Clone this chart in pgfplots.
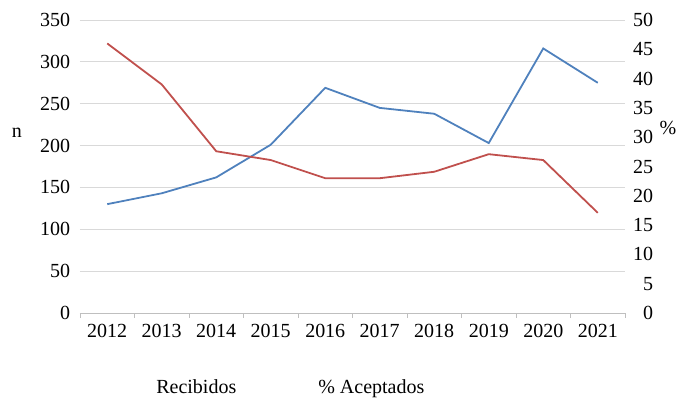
\documentclass[border=0pt]{standalone}
\usepackage{fontspec}
\setmainfont{Liberation Serif}
\usepackage{pgfplots}
\pgfplotsset{compat=1.18}
\definecolor{serblue}{HTML}{4F81BD}
\definecolor{serred}{HTML}{C0504D}
\definecolor{gridc}{HTML}{D9D9D9}
\definecolor{axc}{HTML}{BFBFBF}
\pgfplotstableread{
x n
0 130
1 143
2 162
3 201
4 269
5 245
6 238
7 203
8 316
9 275
}\recibidos
\pgfplotstableread{
x p
0 46.0
1 39.0
2 27.6
3 26.1
4 23.0
5 23.0
6 24.1
7 27.1
8 26.1
9 17.1
}\aceptados
\begin{document}
\fontsize{20}{24}\selectfont
\begin{tikzpicture}
\pgfplotsset{
  every axis/.append style={font=\fontsize{20}{24}\selectfont},
  /pgf/number format/assume math mode=true,
}
\begin{axis}[
  name=main,
  scale only axis, width=545pt, height=293pt,
  xmin=-0.5, xmax=9.5, ymin=0, ymax=350,
  ytick={0,50,...,350},
  xtick={0,...,9},
  xticklabels={2012,2013,2014,2015,2016,2017,2018,2019,2020,2021},
  minor xtick={-0.5,0.5,...,9.5},
  axis lines*=left,
  x axis line style={draw=axc,-},
  y axis line style={draw=none},
  major tick length=0pt,
  minor tick length=5pt,
  tick align=outside,
  minor tick style={draw=axc},
  ymajorgrids,
  major grid style={draw=gridc, line width=0.8pt},
  yticklabel style={xshift=-3pt},
  xticklabel style={yshift=-4pt},
  ylabel={n},
  every axis y label/.style={at={(rel axis cs:-0.1156,0.614)}, anchor=center},
  clip=false,
]
\addplot[serblue, line width=1.8pt] table[x=x,y=n]{\recibidos};
\end{axis}
\begin{axis}[
  at={(main.south west)}, anchor=south west,
  scale only axis, width=545pt, height=293pt,
  xmin=-0.5, xmax=9.5, ymin=0, ymax=50,
  ytick={0,5,...,50},
  xtick=\empty,
  axis lines*=right,
  x axis line style={draw=none},
  y axis line style={draw=none},
  major tick length=0pt,
  yticklabel style={anchor=east, xshift=35pt},
  ylabel={\%},
  every axis y label/.style={at={(rel axis cs:1.079,0.63)}, anchor=center},
  legend columns=2,
  legend image code/.code={},
  legend style={draw=none, fill=none, at={(rel axis cs:0.386,-0.257)}, anchor=center,
    /tikz/every even column/.append style={column sep=78pt}},
  clip=false,
]
\addlegendimage{serblue, line width=1.8pt}
\addlegendentry{Recibidos}
\addplot[serred, line width=1.8pt] table[x=x,y=p]{\aceptados};
\addlegendentry{\% Aceptados}
\end{axis}
\pgfresetboundingbox
\path (main.south west) ++(-80pt,-90pt) rectangle ++(678pt,403pt);
\end{tikzpicture}
\end{document}
